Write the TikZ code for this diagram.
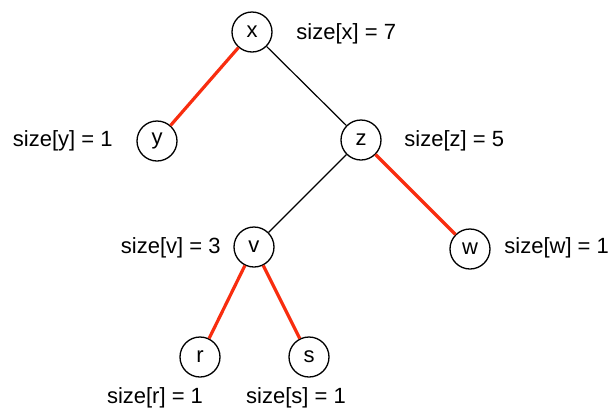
\documentclass[tikz,border=0pt]{standalone}
\usepackage{fontspec}
\setmainfont{Liberation Sans}
\definecolor{edgered}{RGB}{248,45,15}
\begin{document}
\begin{tikzpicture}[x=0.5pt,y=-0.5pt,
    vert/.style={circle,draw,line width=0.65pt,minimum size=20pt,inner sep=0pt,font=\fontsize{11}{13}\selectfont},
    lbl/.style={inner sep=0pt,font=\fontsize{11}{13}\selectfont},
    heavy/.style={edgered,line width=1.6pt},
    light/.style={line width=0.6pt}]
    \useasboundingbox (0,0) rectangle (612,408);
    % tree vertices
    \node[vert] (x) at (252,32) {x};
    \node[vert] (y) at (157,141) {y};
    \node[vert] (z) at (361,140) {z};
    \node[vert] (v) at (254,247) {v};
    \node[vert] (w) at (470,249) {w};
    \node[vert] (r) at (200,357) {r};
    \node[vert] (s) at (309,357) {s};
    % edges
    \draw[heavy] (x)--(y);
    \draw[light] (x)--(z);
    \draw[light] (z)--(v);
    \draw[heavy] (z)--(w);
    \draw[heavy] (v)--(r);
    \draw[heavy] (v)--(s);
    % subtree sizes
    \node[lbl,anchor=base west] (lx) at (296,39) {size[x] = 7};
    \node[lbl,anchor=base east] (ly) at (113,146) {size[y] = 1};
    \node[lbl,anchor=base west] (lz) at (404,146) {size[z] = 5};
    \node[lbl,anchor=base east] (lv) at (221,253) {size[v] = 3};
    \node[lbl,anchor=base west] (lw) at (504,253) {size[w] = 1};
    \node[lbl,anchor=base] (lr) at (155,403) {size[r] = 1};
    \node[lbl,anchor=base] (ls) at (296,403) {size[s] = 1};
\end{tikzpicture}
\end{document}
